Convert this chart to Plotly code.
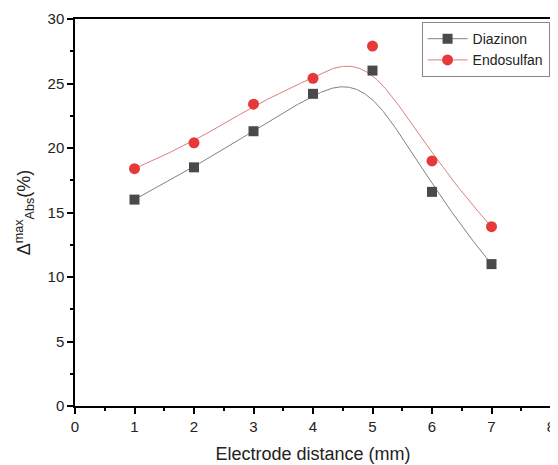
import plotly.graph_objects as go
import numpy as np

distancia = [1, 2, 3, 4, 5, 6, 7]
diazinon = [16.0, 18.5, 21.3, 24.2, 26.0, 16.6, 11.0]
endosulfan = [18.4, 20.4, 23.4, 25.4, 27.9, 19.0, 13.9]


def bspline(px, py, n=300):
    # B-spline cúbico com extremidades fixas (como no Origin)
    p = np.column_stack([px, py]).astype(float)
    k = 3
    m = len(p)
    nos = np.concatenate([[0] * k, np.arange(m - k + 1), [m - k] * k]).astype(float)
    ts = np.linspace(0, m - k, n)
    saida = []
    for t in ts:
        i = np.searchsorted(nos, t, side='right') - 1
        i = min(max(i, k), m - 1)
        d = [p[j + i - k].copy() for j in range(k + 1)]
        for r in range(1, k + 1):
            for j in range(k, r - 1, -1):
                a = (t - nos[j + i - k]) / (nos[j + 1 + i - r] - nos[j + i - k])
                d[j] = (1 - a) * d[j - 1] + a * d[j]
        saida.append(d[k])
    saida = np.array(saida)
    return saida[:, 0], saida[:, 1]


fig = go.Figure()

series = [
    ("Diazinon", diazinon, '#808080', '#4a4a4a', 'square', 10),
    ("Endosulfan", endosulfan, '#d98080', '#e63a3a', 'circle', 11),
]

# curvas suavizadas
for nome, ys, cor_linha, cor_marc, simbolo, tam in series:
    cx, cy = bspline(distancia, ys)
    fig.add_trace(go.Scatter(x=cx, y=cy, mode='lines', line=dict(color=cor_linha, width=1),
                             showlegend=False, hoverinfo='skip'))

# pontos medidos (a legenda mostra linha + marcador)
for nome, ys, cor_linha, cor_marc, simbolo, tam in series:
    fig.add_trace(go.Scatter(x=distancia, y=ys, mode='markers', name=nome,
                             marker=dict(symbol=simbolo, size=tam, color=cor_marc),
                             showlegend=False))
    fig.add_trace(go.Scatter(x=[None], y=[None], mode='lines+markers', name=nome,
                             line=dict(color=cor_linha, width=1),
                             marker=dict(symbol=simbolo, size=tam, color=cor_marc)))

eixo = dict(
    showline=True, linecolor='black', linewidth=1.5, mirror=True,
    ticks='outside', ticklen=6, tickwidth=1.5, tickcolor='black',
    showgrid=False, zeroline=False, automargin=False,
    ticklabeloverflow='allow',
    tickfont=dict(size=15, color='#222'),
)

# a página tem margem de 8px no body: figura um pouco menor que a janela
fig.update_layout(
    width=550, height=457,
    paper_bgcolor='white', plot_bgcolor='white',
    font=dict(family='Liberation Sans, Arial, sans-serif', color='#222'),
    margin=dict(l=67, r=7, t=11, b=59),
    xaxis=dict(eixo, range=[0, 8], dtick=1,
               minor=dict(ticks='outside', ticklen=3, dtick=0.5, tickcolor='black', tickwidth=1.5),
               title=dict(text='Electrode distance (mm)', font=dict(size=18), standoff=14)),
    yaxis=dict(eixo, range=[0, 30], dtick=5,
               minor=dict(ticks='outside', ticklen=3, dtick=2.5, tickcolor='black', tickwidth=1.5),
               title=dict(text='Δ<sup>max</sup><sub>Abs</sub>(%)', font=dict(size=18), standoff=12)),
    legend=dict(x=0.997, y=0.992, xanchor='right', yanchor='top',
                bordercolor='#888', borderwidth=1, bgcolor='white',
                font=dict(size=14), tracegroupgap=0, itemwidth=40),
    showlegend=True,
)

fig.write_html("out.html")
